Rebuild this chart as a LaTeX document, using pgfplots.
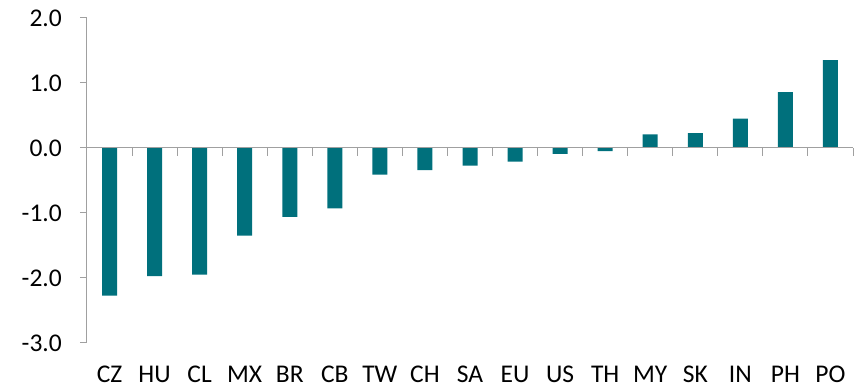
\documentclass[border=0pt]{standalone}
\usepackage{fontspec}
\setmainfont{Carlito}
\usepackage{pgfplots}
\pgfplotsset{compat=1.18}
\definecolor{barteal}{RGB}{0,112,124}
\definecolor{axisgray}{RGB}{160,160,160}

\begin{document}
\begin{tikzpicture}
\useasboundingbox (0,0) rectangle (860pt,390pt);
\begin{axis}[
  at={(87pt,47pt)}, anchor=south west,
  scale only axis, width=766pt, height=325pt,
  xmin=-0.5, xmax=16.5, ymin=-3, ymax=2,
  axis y line*=left,
  axis x line*=bottom,
  x axis line style={draw=none},
  y axis line style={draw=axisgray, line width=1pt},
  tick label style={font=\fontsize{25.5}{30}\selectfont},
  xtick={0,...,16},
  xticklabels={CZ,HU,CL,MX,BR,CB,TW,CH,SA,EU,US,TH,MY,SK,IN,PH,PO},
  xtick style={draw=none},
  xticklabel style={anchor=north, inner sep=0pt, yshift=-16pt},
  ytick={-3,-2,-1,0,1,2},
  yticklabels={-3.0,-2.0,-1.0,0.0,1.0,2.0},
  ytick style={draw=axisgray, line width=1pt},
  tick align=outside,
  major tick length=7pt,
  yticklabel style={anchor=east, inner sep=0pt, xshift=-18pt},
  clip=false,
]
\addplot[ybar, bar width=15pt, fill=barteal, draw=none] coordinates {
  (0,-2.27) (1,-1.97) (2,-1.95) (3,-1.35) (4,-1.06) (5,-0.93)
  (6,-0.41) (7,-0.34) (8,-0.27) (9,-0.21) (10,-0.09) (11,-0.05)
  (12,0.21) (13,0.23) (14,0.45) (15,0.86) (16,1.35)
};
% zero line with category separators
\draw[axisgray, line width=1pt] (axis cs:-0.5,0) -- (axis cs:16.5,0);
\pgfplotsinvokeforeach{-0.5,0.5,1.5,2.5,3.5,4.5,5.5,6.5,7.5,8.5,9.5,10.5,11.5,12.5,13.5,14.5,15.5,16.5}{
  \draw[axisgray, line width=1pt] (axis cs:#1,0) -- ([yshift=-8pt]axis cs:#1,0);
}
\end{axis}
\end{tikzpicture}
\end{document}
